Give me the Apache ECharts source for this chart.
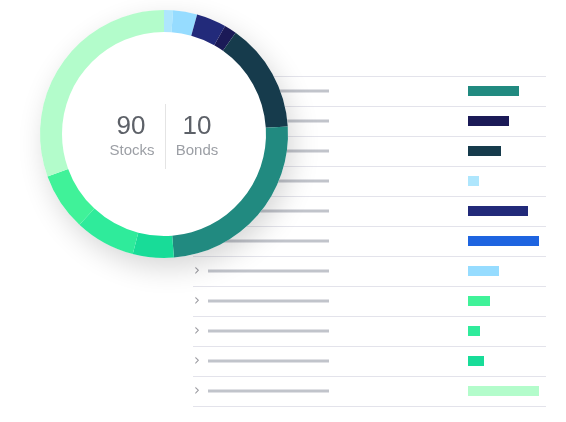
<!DOCTYPE html>
<html>
<head>
<meta charset="utf-8">
<script src="https://cdn.jsdelivr.net/npm/echarts@6/dist/echarts.min.js"></script>
<style>
html,body{margin:0;padding:0;background:#fff;}
#chart{width:566px;height:422px;}
</style>
</head>
<body>
<div id="chart"></div>
<script>
// Donut segments (clockwise from 12 o'clock)
const donutNames = ['A','B','C','D','E','F','G','H','I','J'];
const donutValues = [4.2, 11.3, 14, 5.8, 51.2, 88.9, 19.2, 28.4, 27, 110];
const donutColors = ['#aee6fd','#96dcff','#222a7a','#1b1a57','#163b4c','#218a80','#18dc98','#2feb9b','#40f299','#b3fccb'];

// List rows
const rowNames = ['r1','r2','r3','r4','r5','r6','r7','r8','r9','r10','r11'];
const rowValues = [51, 41, 33, 11, 60, 71, 31, 22, 12, 16, 71];
const rowColors = ['#218a80','#1b1a57','#163b4c','#aee6fd','#222a7a','#1e64e0','#96dcff','#40f299','#2feb9b','#18dc98','#b3fccb'];
const placeholderValues = [1,1,1,1,1,1,1,1,1,1,1];

// Center text
const centerNumbers = ['90','10'];
const centerLabels = ['Stocks','Bonds'];

const chart = echarts.init(document.getElementById('chart'), null, {renderer:'canvas'});
const font = '"Liberation Sans", Arial, sans-serif';

chart.setOption({
  animation: false,
  backgroundColor: '#ffffff',
  grid: [
    {left: 193, top: 76, width: 353, height: 330},
    {left: 468, top: 76, width: 78, height: 330},
    {left: 208, top: 76, width: 121, height: 330}
  ],
  xAxis: [
    {gridIndex: 0, type: 'value', show: false, min: 0, max: 1},
    {gridIndex: 1, type: 'value', show: false, min: 0, max: 78},
    {gridIndex: 2, type: 'value', show: false, min: 0, max: 1}
  ],
  yAxis: [
    {gridIndex: 0, type: 'category', data: rowNames, inverse: true,
     axisLine: {show: false}, axisTick: {show: false},
     splitLine: {show: true, lineStyle: {color: '#e3e3eb', width: 1}},
     axisLabel: {show: true, inside: true, margin: 1, formatter: function(){return '\u203A';},
                 color: '#9c9ca2', fontSize: 15, fontFamily: 'DejaVu Sans', fontWeight: 'normal'}},
    {gridIndex: 1, type: 'category', data: rowNames, inverse: true, show: false},
    {gridIndex: 2, type: 'category', data: rowNames, inverse: true, show: false}
  ],
  graphic: [
    {type: 'line', z: 100, shape: {x1: 165.5, y1: 104, x2: 165.5, y2: 169}, style: {stroke: '#e4e4e4', lineWidth: 1}},
    {type: 'text', z: 100, x: 131, y: 127, style: {text: centerNumbers[0], fill: '#5d6168', font: 'normal 26px ' + font, textAlign: 'center', textVerticalAlign: 'middle'}},
    {type: 'text', z: 100, x: 197, y: 127, style: {text: centerNumbers[1], fill: '#5d6168', font: 'normal 26px ' + font, textAlign: 'center', textVerticalAlign: 'middle'}},
    {type: 'text', z: 100, x: 132, y: 151, style: {text: centerLabels[0], fill: '#9c9fa5', font: 'normal 15px ' + font, textAlign: 'center', textVerticalAlign: 'middle'}},
    {type: 'text', z: 100, x: 197, y: 151, style: {text: centerLabels[1], fill: '#9c9fa5', font: 'normal 15px ' + font, textAlign: 'center', textVerticalAlign: 'middle'}}
  ],
  series: [
    {
      type: 'bar', xAxisIndex: 2, yAxisIndex: 2, barWidth: 3, silent: true,
      data: placeholderValues, itemStyle: {color: '#c1c4cb'}
    },
    {
      type: 'bar', xAxisIndex: 1, yAxisIndex: 1, barWidth: 10, silent: true,
      data: rowValues.map((v, i) => ({value: v, itemStyle: {color: rowColors[i]}}))
    },
    {
      type: 'pie', z: 10, silent: true, center: [164, 134], radius: [0, 124],
      label: {show: false}, labelLine: {show: false}, emphasis: {disabled: true},
      data: [{value: 1, itemStyle: {color: '#ffffff', shadowBlur: 28, shadowColor: 'rgba(0,0,0,0.16)', shadowOffsetX: 5, shadowOffsetY: 10}}]
    },
    {
      type: 'pie', z: 11, silent: true, center: [164, 134], radius: [102, 124],
      startAngle: 90, clockwise: true, avoidLabelOverlap: false,
      label: {show: false}, labelLine: {show: false}, emphasis: {disabled: true},
      itemStyle: {borderWidth: 0},
      data: donutValues.map((v, i) => ({name: donutNames[i], value: v, itemStyle: {color: donutColors[i]}}))
    }
  ]
});
</script>
</body>
</html>
